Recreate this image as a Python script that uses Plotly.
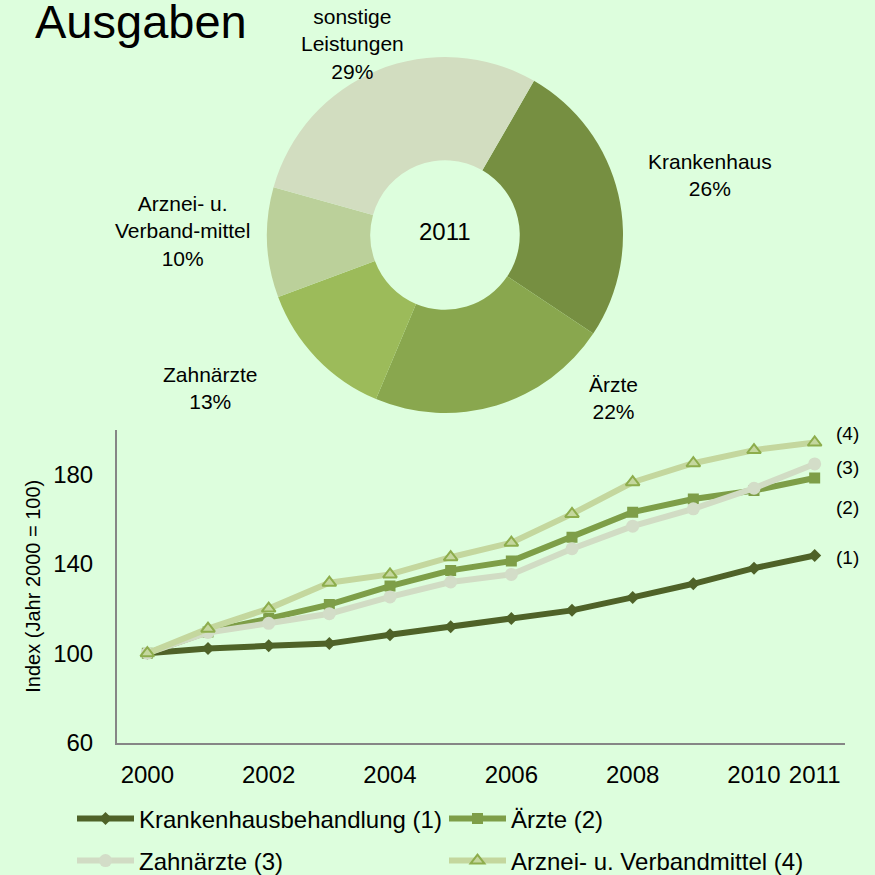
import plotly.graph_objects as go

# ---------------- data ----------------
years = [2000, 2001, 2002, 2003, 2004, 2005, 2006, 2007, 2008, 2009, 2010, 2011]
krankenhaus = [100, 102.1, 103.3, 104.3, 108.3, 111.8, 115.5, 119.2, 125.0, 131.1, 138.1, 143.8]
aerzte = [100, 109.5, 115.5, 121.8, 130.1, 137.1, 141.3, 152.0, 163.2, 169.1, 172.9, 178.5]
zahnaerzte = [100, 109.3, 113.4, 117.7, 125.2, 131.9, 135.3, 146.8, 156.9, 164.7, 173.9, 184.8]
arznei = [100, 111.0, 120.0, 131.6, 135.3, 143.0, 149.5, 162.4, 176.6, 185.1, 191.0, 194.4]

series_names = ["Krankenhausbehandlung (1)", "Ärzte (2)", "Zahnärzte (3)", "Arznei- u. Verbandmittel (4)"]
series_tags = ["(1)", "(2)", "(3)", "(4)"]

pie_labels = ["Krankenhaus", "Ärzte", "Zahnärzte", "Arznei- u.<br>Verband-mittel", "sonstige<br>Leistungen"]
pie_values = [26, 22, 13, 10, 29]
pie_center_text = "2011"

x_tickvals = [2000, 2002, 2004, 2006, 2008, 2010, 2011]
y_tickvals = [60, 100, 140, 180]

title_text = "Ausgaben"
y_title = "Index (Jahr 2000 = 100)"

# ---------------- styling ----------------
W = H = 875
BG = "#DDFEDD"
FONT = "Arial, Liberation Sans, sans-serif"
pie_colors = ["#768F41", "#89A74E", "#9CBB5A", "#BBD09A", "#D2DDC0"]


def px_x(p):
    return p / W


def px_y(p):
    return 1 - p / H


fig = go.Figure()

# donut
fig.add_trace(go.Pie(
    labels=pie_labels, values=pie_values, sort=False, direction="clockwise",
    rotation=30, hole=0.42, textinfo="none", hoverinfo="label+percent",
    marker=dict(colors=pie_colors, line=dict(width=0)),
    domain=dict(x=[px_x(267), px_x(623)], y=[px_y(413), px_y(57)]),
    showlegend=False,
))

# lines
line_styles = [
    dict(line=dict(color="#4F6228", width=6),
         marker=dict(symbol="diamond", size=10, color="#4F6228")),
    dict(line=dict(color="#7E9E48", width=6),
         marker=dict(symbol="square", size=11, color="#7E9E48")),
    dict(line=dict(color="#D1DCC4", width=6),
         marker=dict(symbol="circle", size=13, color="#D3DDC8")),
    dict(line=dict(color="#C4D79E", width=6),
         marker=dict(symbol="triangle-up", size=12, color="#C4D79E",
                     line=dict(color="#8DAD4C", width=2))),
]
series_values = [krankenhaus, aerzte, zahnaerzte, arznei]
legend_ids = ["legend", "legend", "legend2", "legend2"]
for name, vals, st, lg in zip(series_names, series_values, line_styles, legend_ids):
    fig.add_trace(go.Scatter(x=years, y=vals, name=name, mode="lines+markers",
                             legend=lg, **st))

annotations = []
# title
annotations.append(dict(text=title_text, xref="paper", yref="paper",
                        x=px_x(33), y=px_y(21), xanchor="left", yanchor="middle",
                        showarrow=False, font=dict(size=47, color="black", family=FONT)))
# donut center
annotations.append(dict(text=pie_center_text, xref="paper", yref="paper",
                        x=px_x(445), y=px_y(231), xanchor="center", yanchor="middle",
                        showarrow=False, font=dict(size=24, color="black", family=FONT)))
# donut labels
total = sum(pie_values)
label_pos = [(710, 175), (613, 398), (210, 388), (182, 231), (352, 44)]
for lab, v, (lx, ly) in zip(pie_labels, pie_values, label_pos):
    annotations.append(dict(text=f"{lab}<br>{round(100 * v / total)}%", xref="paper", yref="paper",
                            x=px_x(lx), y=px_y(ly), xanchor="center", yanchor="middle",
                            showarrow=False, align="center",
                            font=dict(size=21, color="black", family=FONT)))
# series tags at right
tag_y = [557, 507, 467, 433]
for tag, ty in zip(series_tags, tag_y):
    annotations.append(dict(text=tag, xref="paper", yref="paper",
                            x=px_x(847), y=px_y(ty), xanchor="center", yanchor="middle",
                            showarrow=False, font=dict(size=19, color="black", family=FONT)))

legend_common = dict(orientation="h", xanchor="left", yanchor="middle",
                     bgcolor="rgba(0,0,0,0)", font=dict(size=24, color="black", family=FONT),
                     entrywidth=300, entrywidthmode="pixels", itemwidth=57,
                     traceorder="normal")

fig.update_layout(
    width=W, height=H,
    margin=dict(l=0, r=0, t=0, b=0, autoexpand=False),
    paper_bgcolor=BG, plot_bgcolor=BG,
    font=dict(family=FONT, color="black"),
    annotations=annotations,
    legend=dict(x=px_x(72), y=px_y(819), **legend_common),
    legend2=dict(x=px_x(72), y=px_y(861), **legend_common),
    xaxis=dict(domain=[px_x(117), px_x(845)], range=[1999.5, 2011.5],
               tickvals=x_tickvals, ticktext=[str(v) for v in x_tickvals],
               showgrid=False, zeroline=False, showline=True, linecolor="#868686", linewidth=2,
               ticks="", ticklabelstandoff=10, tickfont=dict(size=24, color="black", family=FONT)),
    yaxis=dict(domain=[px_y(742.5), px_y(430)], range=[60, 200],
               tickvals=y_tickvals, showgrid=False, zeroline=False,
               showline=True, linecolor="#868686", linewidth=2,
               ticks="outside", ticklen=17, tickcolor="rgba(0,0,0,0)",
               tickfont=dict(size=24, color="black", family=FONT),
               title=dict(text=y_title, font=dict(size=20, color="black", family=FONT), standoff=7)),
)

fig.write_html(
    "out.html",
    config={"displayModeBar": False},
    post_script="document.body.style.margin='0';document.body.style.background='%s';" % BG,
)
